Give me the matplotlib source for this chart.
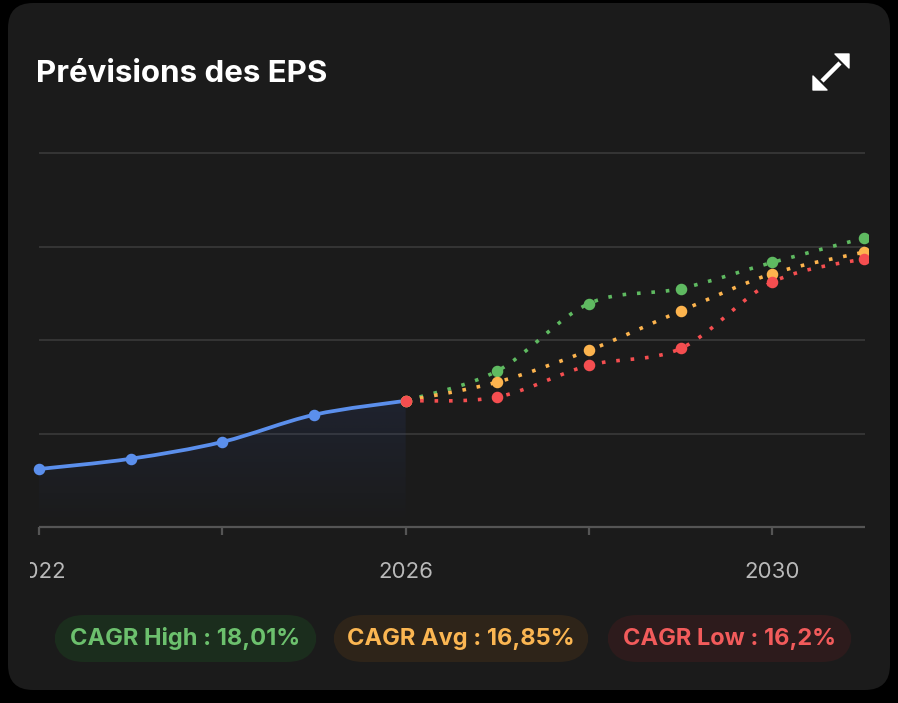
import numpy as np
import matplotlib
matplotlib.use("Agg")
import matplotlib.pyplot as plt
from matplotlib.patches import FancyBboxPatch, PathPatch, Polygon
from matplotlib.lines import Line2D
from matplotlib.path import Path

# data (arbitrary units, gridline step = 1)
hist_years = [2022, 2023, 2024, 2025, 2026]
hist_eps = [0.62, 0.73, 0.91, 1.20, 1.35]

fc_years = [2026, 2027, 2028, 2029, 2030, 2031]
eps_high = [1.35, 1.67, 2.39, 2.55, 2.83, 3.09]
eps_avg = [1.35, 1.55, 1.89, 2.31, 2.71, 2.94]
eps_low = [1.35, 1.39, 1.73, 1.91, 2.62, 2.87]

tick_years = [2022, 2024, 2026, 2028, 2030]
label_years = [2022, 2026, 2030]
grid_vals = [1, 2, 3, 4]

pills = [("CAGR High : 18,01%", "#6cc06d", "#1b2d1d"),
         ("CAGR Avg : 16,85%", "#fbb652", "#2e2419"),
         ("CAGR Low : 16,2%", "#f25b5b", "#2d1b1c")]

BG = "#1b1b1b"
BLUE = "#5b8fec"
GREEN = "#5fba61"
ORANGE = "#fdb44e"
RED = "#f54e50"
FONT = ["Inter", "DejaVu Sans"]

W, H = 898, 703
fig = plt.figure(figsize=(W / 100, H / 100), dpi=100)
fig.patch.set_facecolor("black")


def fx(px):
    return px / W


def fy(py):
    return (H - py) / H


card = FancyBboxPatch((fx(8), fy(690)), (890 - 8) / W, (690 - 3) / H,
                      boxstyle="round,pad=0,rounding_size=0.028",
                      transform=fig.transFigure, facecolor=BG, edgecolor="none",
                      mutation_aspect=W / H, zorder=-10)
fig.patches.append(card)

# axes: pixel box x 30..868, y 140..600 (from top)
ax = fig.add_axes([fx(30), fy(600), (868 - 30) / W, (600 - 140) / H])
ax.set_zorder(2)
ax.set_facecolor("none")
ppy = 93.5  # pixels per unit
ppx = (864 - 39) / 9
XL = (2022 - 9 / ppx, 2031 + 4 / ppx)
YL = (-(600 - 527) / ppy, (527 - 140) / ppy)
ax.axis("off")


def smooth_path(xs, ys):
    pts = np.column_stack([xs, ys]).astype(float)
    n = len(pts)
    verts = [pts[0]]
    codes = [Path.MOVETO]
    for i in range(n - 1):
        p0 = pts[max(i - 1, 0)]
        p1 = pts[i]
        p2 = pts[i + 1]
        p3 = pts[min(i + 2, n - 1)]
        c1 = p1 + (p2 - p0) / 6
        c2 = p2 - (p3 - p1) / 6
        verts += [c1, c2, p2]
        codes += [Path.CURVE4] * 3
    return Path(verts, codes)


# grid and axis
ax.hlines(grid_vals, 2022, 2031.01, colors="#3a3a3a", lw=1.2, zorder=1)
ax.hlines(0, 2022, 2031.01, colors="#555555", lw=1.6, zorder=1)
ax.vlines(tick_years, -8 / ppy, 0, colors="#555555", lw=1.6, zorder=1)
for yr in label_years:
    ax.text(yr, -(572 - 527) / ppy, str(yr), ha="center", va="center",
            color="#b9b9b9", fontsize=16, family=FONT, clip_on=True)

# area under history line
hp = smooth_path(hist_years, hist_eps)
av = list(hp.vertices) + [[hist_years[-1], 0], [hist_years[0], 0], [hist_years[0], hist_eps[0]]]
ac = list(hp.codes) + [Path.LINETO, Path.LINETO, Path.CLOSEPOLY]
area = PathPatch(Path(av, ac), facecolor="none", edgecolor="none")
ax.add_patch(area)
grad = np.zeros((100, 2, 4))
grad[..., 0], grad[..., 1], grad[..., 2] = 0.2, 0.3, 0.6
grad[..., 3] = np.linspace(0.16, 0.0, 100)[:, None]
img = ax.imshow(grad, extent=[2022, 2026, 0, max(hist_eps)], origin="upper",
                aspect="auto", zorder=2)
img.set_clip_path(area)

# history line
ax.add_patch(PathPatch(hp, facecolor="none", edgecolor=BLUE, lw=2.7,
                       capstyle="round", zorder=3))
ax.plot(hist_years[:-1], hist_eps[:-1], "o", color=BLUE, ms=7.3, zorder=4)

# forecast lines
for vals, col, z in [(eps_high, GREEN, 5), (eps_avg, ORANGE, 6), (eps_low, RED, 7)]:
    p = smooth_path(fc_years, vals)
    ax.add_patch(PathPatch(p, facecolor="none", edgecolor=col, lw=2.6,
                           linestyle=(0, (1, 3.0)), capstyle="butt", zorder=z))
    ax.plot(fc_years, vals, "o", color=col, ms=7.3, zorder=z + 3)

ax.set_xlim(*XL)
ax.set_ylim(*YL)

# title
fig.text(fx(36), fy(74), "Prévisions des EPS", color="white",
         fontsize=22.5, fontweight="bold", family=FONT,
         ha="left", va="center")

# expand icon
fig.add_artist(Line2D([fx(822), fx(840)], [fy(81), fy(63)], color="white",
                      lw=3.2, solid_capstyle="butt", transform=fig.transFigure, zorder=5))
fig.add_artist(Polygon([[fx(849), fy(54)], [fx(835), fy(54)], [fx(849), fy(68)]],
                       closed=True, transform=fig.transFigure, facecolor="white",
                       edgecolor="white", lw=1, joinstyle="round", zorder=5))
fig.add_artist(Polygon([[fx(813), fy(90)], [fx(827), fy(90)], [fx(813), fy(76)]],
                       closed=True, transform=fig.transFigure, facecolor="white",
                       edgecolor="white", lw=1, joinstyle="round", zorder=5))

# pills
pill_boxes = [(54, 317), (333, 589), (607, 852)]
for (txt, tc, bc), (x0, x1) in zip(pills, pill_boxes):
    y0, y1 = 615, 662
    hh = (y1 - y0)
    pb = FancyBboxPatch((fx(x0), fy(y1)), (x1 - x0) / W, hh / H,
                        boxstyle="round,pad=0,rounding_size=%f" % (hh / 2 / H),
                        mutation_aspect=W / H, zorder=1,
                        transform=fig.transFigure, facecolor=bc, edgecolor="none")
    fig.patches.append(pb)
    fig.text(fx((x0 + x1) / 2), fy((y0 + y1) / 2), txt, color=tc,
             fontsize=17, fontweight="bold", family=FONT,
             ha="center", va="center", zorder=3)

fig.savefig("out.png", dpi=100, facecolor="black")
